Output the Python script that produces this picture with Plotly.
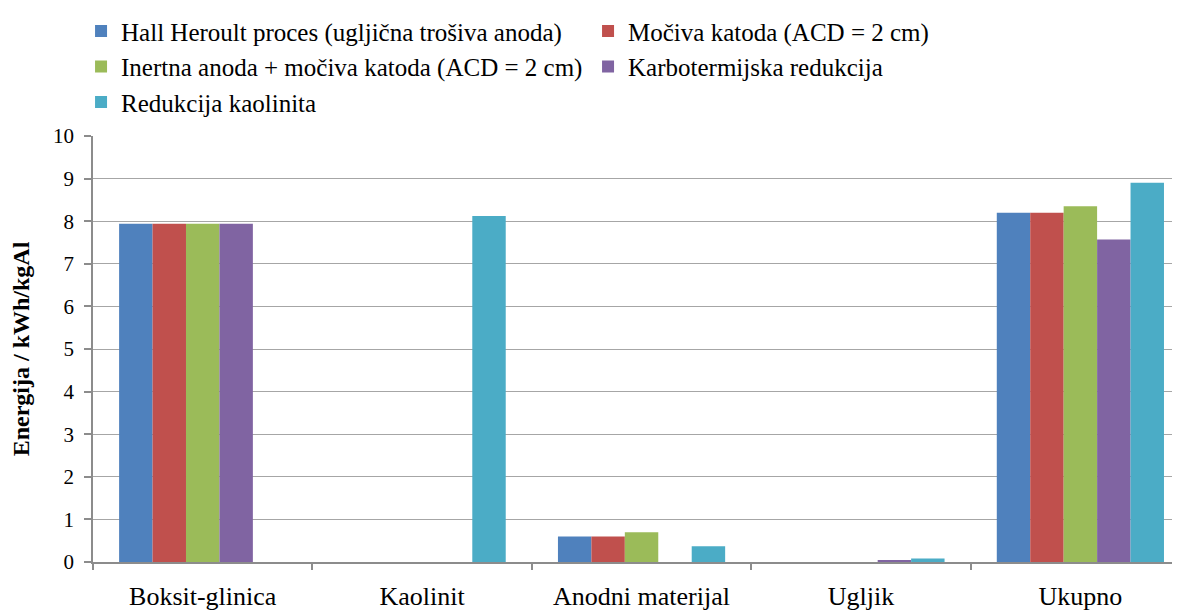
import plotly.graph_objects as go

categories = ["Boksit-glinica", "Kaolinit", "Anodni materijal", "Ugljik", "Ukupno"]
series_names = [
    "Hall Heroult proces (ugljična trošiva anoda)",
    "Močiva katoda (ACD = 2 cm)",
    "Inertna anoda + močiva katoda (ACD = 2 cm)",
    "Karbotermijska redukcija",
    "Redukcija kaolinita",
]
hall = [7.94, 0, 0.60, 0, 8.20]
mociva = [7.94, 0, 0.60, 0, 8.20]
inertna = [7.94, 0, 0.70, 0, 8.35]
karbo = [7.94, 0, 0, 0.04, 7.57]
kaolinit = [0, 8.12, 0.37, 0.08, 8.90]
colors = ["#4F81BD", "#C0504D", "#9BBB59", "#8064A2", "#4BACC6"]
y_ticks = [0, 1, 2, 3, 4, 5, 6, 7, 8, 9, 10]

fig = go.Figure()
for name, vals, c in zip(series_names, [hall, mociva, inertna, karbo, kaolinit], colors):
    fig.add_trace(go.Bar(name=name, x=categories, y=vals, marker=dict(color=c, line=dict(width=0))))

font_family = "Liberation Serif"
# page body has an 8px margin, so the figure is 8px smaller and shifted
fig.update_layout(
    width=1172, height=604,
    margin=dict(l=85, r=0, t=128, b=50),
    paper_bgcolor="white", plot_bgcolor="white",
    barmode="group", bargap=0.238, bargroupgap=0,
    font=dict(family=font_family, size=20, color="black"),
    legend=dict(
        orientation="h", x=-0.011, y=1.30, xanchor="left", yanchor="top",
        entrywidth=462, entrywidthmode="pixels",
        font=dict(family=font_family, size=25, color="black"),
        traceorder="normal",
    ),
    xaxis=dict(
        type="category", range=[-0.5, 4.454],
        showline=True, linecolor="#8c8c8c", linewidth=1.5,
        ticks="outside", tickson="boundaries", ticklen=6, tickcolor="#8c8c8c", tickwidth=1.5,
        showgrid=False, tickfont=dict(size=26, family=font_family, color="black"),
        ticklabelstandoff=10,
    ),
    yaxis=dict(
        range=[0, 10], tickvals=y_ticks,
        showline=True, linecolor="#8c8c8c", linewidth=1.5,
        ticks="outside", ticklen=7, tickcolor="#8c8c8c", tickwidth=1.5,
        showgrid=True, gridcolor="#a6a6a6", gridwidth=1.3,
        zeroline=False,
        tickfont=dict(size=21, family=font_family, color="black"),
        ticklabelstandoff=6,
        title=dict(text="<b>Energija / kWh/kgAl</b>", font=dict(size=24, family=font_family), standoff=18),
    ),
)
fig.write_html("out.html")
